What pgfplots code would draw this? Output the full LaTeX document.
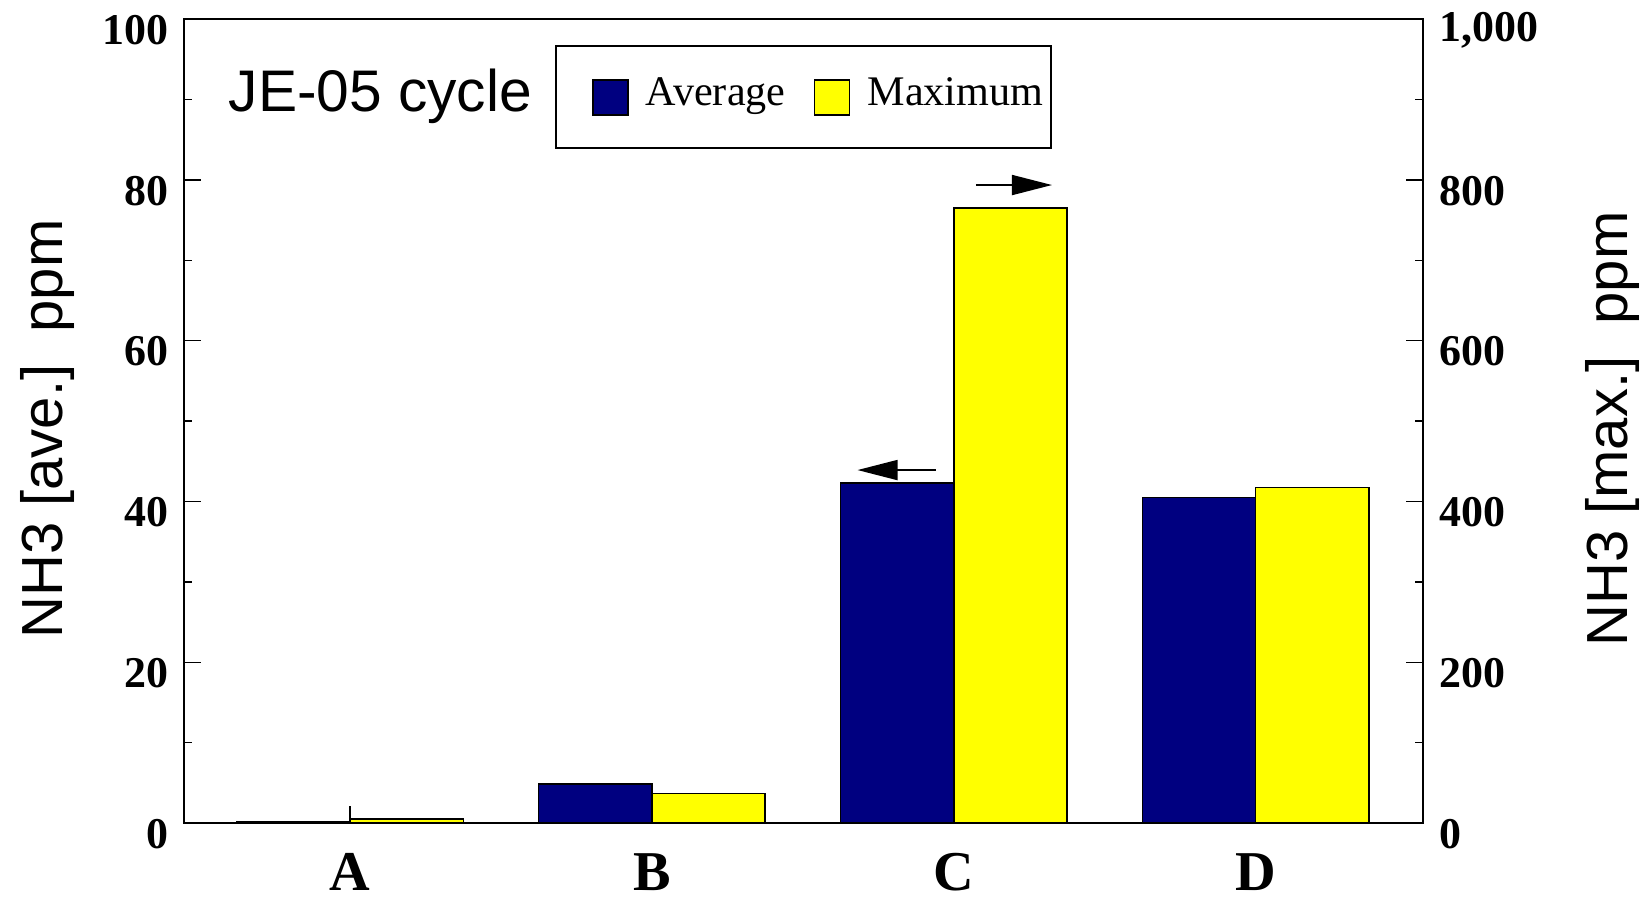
\documentclass[border=0pt]{standalone}
\usepackage{pgfplots}
\pgfplotsset{compat=1.18}
\usepackage{fontspec}
\setmainfont{Liberation Serif}
\newfontfamily\arial{Liberation Sans}
\usetikzlibrary{arrows.meta}
\definecolor{navy}{RGB}{0,0,128}
\definecolor{yel}{RGB}{255,255,0}
\pgfplotsset{
  common/.style={
    width=123.9mm, height=80.4mm, scale only axis,
    xmin=-0.55, xmax=3.554,
    ybar, bar width=0.375,
    tick align=inside,
    major tick length=1.7mm, minor tick length=0.8mm,
    every tick/.style={black, line width=0.4pt},
    /pgf/number format/assume math mode=true,
    tick label style={font=\fontsize{12.5}{14}\selectfont\bfseries},
    minor y tick num=1,
  },
}
\begin{document}
\begin{tikzpicture}
\useasboundingbox (-18.4mm,-8mm) rectangle (146.4mm,82.3mm);
\begin{axis}[common,
  ymin=0, ymax=100,
  ytick={0,20,...,100},
  xtick={0,1,2,3}, xticklabels={A,B,C,D},
  ytick pos=left, xtick pos=bottom,
  axis line style={line width=0.8pt},
  yticklabel style={yshift=-1.1mm, xshift=-0.3mm},
  xticklabel style={font=\fontsize{16}{18}\selectfont\bfseries, yshift=-1.8mm},
  ylabel={NH3 [ave.]\ \ ppm},
  every axis y label/.style={at={(rel axis cs:0,0.49)}, xshift=-13.6mm, rotate=90, anchor=center, font=\arial\fontsize{16.5}{19}\selectfont},
]
\addplot[fill=navy, draw=black, line width=0.4pt, bar shift=-0.1875] coordinates {(0,0.2) (1,4.85) (2,42.3) (3,40.5)};
\node[anchor=base west, font=\arial\fontsize{16.7}{19}\selectfont, inner sep=0pt] at (rel axis cs:0.0355,0.885) {JE-05 cycle};
\draw[line width=0.5pt, -{Triangle[length=4mm,width=2mm]}] (axis cs:1.940,43.9) -- (axis cs:1.681,43.9);
\draw[line width=0.5pt, -{Triangle[length=4mm,width=2mm]}] (axis cs:2.073,79.35) -- (axis cs:2.325,79.35);
\end{axis}
\begin{axis}[common,
  ymin=0, ymax=1000,
  ytick={0,200,...,1000},
  axis x line=none,
  axis y line*=right,
  axis line style={line width=0.8pt},
  yticklabel style={yshift=-1.1mm, xshift=0.4mm},
  ylabel={NH3 [max.]\ \ ppm},
  every axis y label/.style={at={(rel axis cs:1,0.49)}, xshift=18.9mm, rotate=90, anchor=center, font=\arial\fontsize{16.5}{19}\selectfont},
  legend columns=2,
  legend image code/.code={\path[draw=none,fill=none] (0mm,-1.75mm) rectangle (8.2mm,1.75mm); \draw[#1] (2.9mm,-1.75mm) rectangle (6.4mm,1.75mm);},
  legend style={at={(0.2994,0.9677)}, anchor=north west, draw=black, line width=0.5pt,
    font=\fontsize{12}{14}\selectfont, inner xsep=0.8mm, inner ysep=3.2mm,
    nodes={inner sep=0pt, anchor=west, yshift=0.3mm},
    /tikz/every even column/.append style={column sep=0pt}},
]
\addlegendimage{fill=navy, draw=black, line width=0.4pt}
\addlegendentry{Average}
\addplot[fill=yel, draw=black, line width=0.4pt, bar shift=0.1875] coordinates {(0,5) (1,37) (2,765) (3,417)};
\addlegendentry{Maximum}
\end{axis}
\end{tikzpicture}
\end{document}
